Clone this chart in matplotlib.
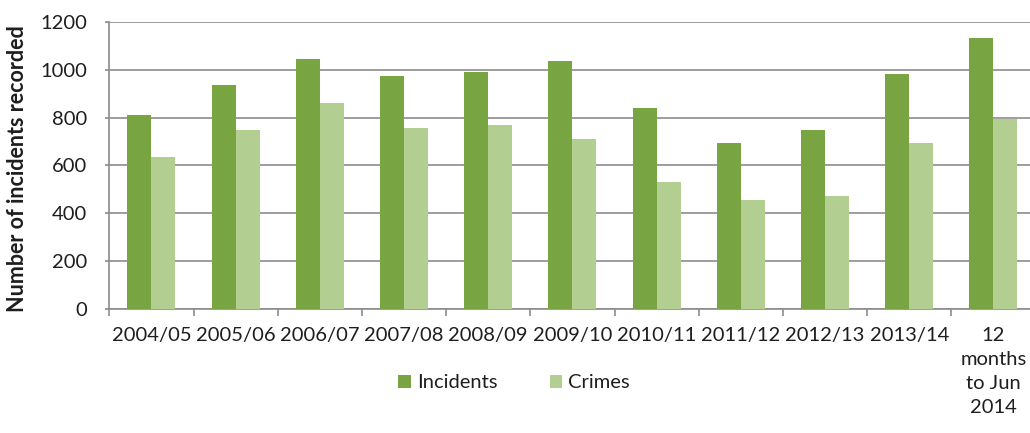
import numpy as np
import matplotlib.pyplot as plt

plt.rcParams['font.family'] = ['Lato', 'DejaVu Sans']

# data
years = ['2004/05', '2005/06', '2006/07', '2007/08', '2008/09', '2009/10',
         '2010/11', '2011/12', '2012/13', '2013/14', '12\nmonths\nto Jun\n2014']
incidents = [812, 936, 1047, 976, 990, 1038, 841, 694, 750, 982, 1131]
crimes = [636, 747, 861, 755, 769, 711, 529, 455, 471, 692, 796]

inc_color = '#78a442'
cri_color = '#b2ce91'
grid_color = '#8c8c8c'
text_color = '#1e1e1e'
fs = 14.5

fig = plt.figure(figsize=(10.30, 4.33), dpi=100)
ax = fig.add_axes([109.3 / 1030, 124.3 / 433, 926.2 / 1030, 286.7 / 433])

x = np.arange(len(years))
w = 0.285
ax.bar(x - w / 2, incidents, w, color=inc_color, label='Incidents', zorder=3)
ax.bar(x + w / 2, crimes, w, color=cri_color, label='Crimes', zorder=3)

ax.set_xlim(-0.5, len(years) - 0.5)
ax.set_ylim(0, 1200)
ax.set_yticks(np.arange(0, 1201, 200))
ax.yaxis.grid(True, color=grid_color, linewidth=1.2, zorder=0)
ax.set_axisbelow(True)

# ticks between categories, labels at centres
ax.set_xticks(np.arange(len(years) + 1) - 0.5)
ax.set_xticklabels([])
ax.set_xticks(x, minor=True)
ax.set_xticklabels(years, minor=True, fontsize=fs, color=text_color,
                   linespacing=1.5, va='top')
ax.tick_params(axis='x', which='major', length=5, color=grid_color, width=1.2)
ax.tick_params(axis='x', which='minor', length=0, pad=13)
ax.tick_params(axis='y', length=3, color=grid_color, width=1.2,
               labelsize=fs, labelcolor=text_color, pad=13)

for s in ['top', 'right']:
    ax.spines[s].set_visible(False)
for s in ['left', 'bottom']:
    ax.spines[s].set_color(grid_color)
    ax.spines[s].set_linewidth(1.2)

ax.set_ylabel('Number of incidents recorded', fontsize=15.5,
              fontweight='bold', color=text_color)
ax.yaxis.set_label_coords(-81 / 926.2, 0.49)

fig.legend(loc='center', bbox_to_anchor=(514 / 1030, 1 - 383 / 433), ncol=2,
           frameon=False, fontsize=fs, handlelength=0.63, handleheight=0.63,
           handletextpad=0.3, columnspacing=2.6, labelcolor=text_color)

fig.savefig('out.png', dpi=100)
